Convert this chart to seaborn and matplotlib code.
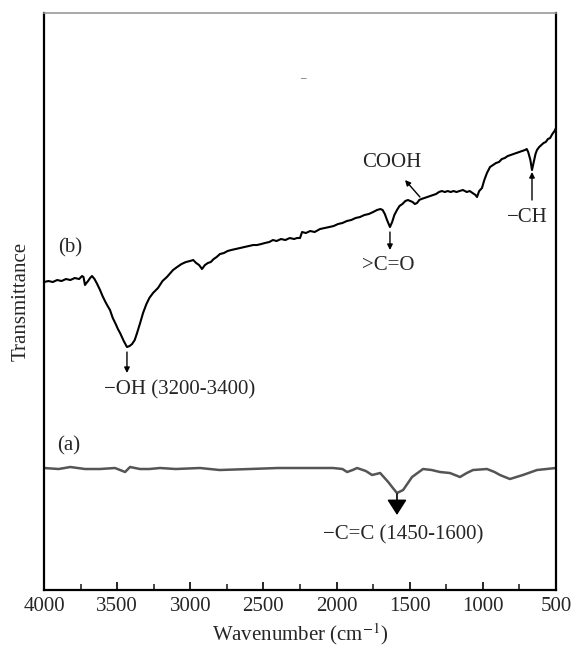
import pandas as pd
import matplotlib.pyplot as plt
import seaborn as sns
from matplotlib.ticker import MultipleLocator

# Spectrum (b): wavenumber (cm-1) and transmittance (arbitrary units)
wn_b = [4000, 3970, 3940, 3910, 3880, 3850, 3820, 3790, 3760, 3740, 3730,
        3720, 3710, 3699, 3685, 3672, 3655, 3640, 3617, 3600, 3580, 3565,
        3549, 3530, 3510, 3495, 3480, 3455, 3433, 3415, 3398, 3380, 3364,
        3345, 3323, 3300, 3280, 3255, 3221, 3190, 3160, 3118, 3090, 3060,
        3030, 3002, 2980, 2960, 2940, 2920, 2900, 2880, 2860, 2840, 2820,
        2797, 2770, 2745, 2720, 2690, 2660, 2630, 2600, 2570, 2544, 2515,
        2490, 2460, 2435, 2410, 2380, 2350, 2320, 2290, 2271, 2250, 2236,
        2210, 2180, 2150, 2113, 2080, 2050, 2020, 1990, 1960, 1930, 1900,
        1870, 1840, 1810, 1780, 1750, 1724, 1700, 1685, 1670, 1655, 1635,
        1620, 1605, 1587, 1570, 1550, 1530, 1512, 1495, 1480, 1465, 1450,
        1435, 1420, 1400, 1380, 1360, 1341, 1320, 1300, 1280, 1260, 1240,
        1220, 1200, 1180, 1160, 1136, 1110, 1090, 1070, 1050, 1040, 1025,
        1006, 990, 972, 951, 930, 910, 890, 870, 850, 830, 810, 790, 770,
        750, 730, 712, 700, 690, 675, 664, 652, 640, 630, 615, 600, 585,
        570, 555, 540, 525, 510, 500]
tr_b = [308, 309, 308, 310, 309, 311, 310, 312, 311, 314, 313,
        305, 307, 309, 312, 314, 311, 307, 300, 294, 288, 284,
        280, 272, 266, 261, 257, 249, 243, 244, 246, 250, 257,
        266, 277, 286, 292, 297, 302, 309, 313, 320, 323, 326,
        328, 329, 330, 327, 325, 321, 325, 327, 328, 331, 333,
        336, 337, 339, 340, 341, 342, 343, 344, 345, 345, 346,
        347, 348, 350, 349, 351, 350, 352, 351, 352, 352, 358,
        357, 359, 358, 361, 362, 363, 364, 366, 367, 369, 370,
        372, 373, 375, 376, 378, 380, 381, 380, 376, 370, 363,
        368, 375, 380, 384, 386, 389, 390, 389, 388, 386, 387,
        390, 391, 392, 393, 394, 395, 396, 398, 399, 398, 399,
        398, 399, 398, 399, 400, 398, 399, 397, 395, 393, 399,
        402, 410, 417, 423, 425, 427, 428, 431, 432, 434, 435, 436, 437,
        438, 439, 440, 441, 438, 430, 420, 428, 436, 440, 443, 445, 447,
        448, 451, 452, 456, 459, 462]

# Spectrum (a)
wn_a = [4000, 3900, 3820, 3720, 3617, 3515, 3480, 3446, 3412, 3344, 3280,
        3207, 3100, 2934, 2800, 2592, 2400, 2250, 2100, 2024, 1960, 1928,
        1890, 1860, 1800, 1757, 1702, 1647, 1615, 1587, 1545, 1484, 1409,
        1350, 1293, 1225, 1156, 1110, 1067, 972, 920, 883, 815, 726, 630, 500]
tr_a = [122, 121, 123, 121, 121, 122, 120, 118, 123, 121, 121,
        122, 121, 122, 120, 121, 122, 122, 122, 122, 121, 118,
        120, 122, 119, 115, 117, 108, 102, 97, 100, 113, 121,
        120, 118, 117, 113, 117, 120, 121, 118, 115, 111, 115, 120, 122]

df_b = pd.DataFrame({"wn": wn_b, "T": tr_b})
df_a = pd.DataFrame({"wn": wn_a, "T": tr_a})

sns.set_style("white")
plt.rcParams['font.family'] = ['Liberation Serif', 'DejaVu Serif']
plt.rcParams['mathtext.fontset'] = 'stix'

fig = plt.figure(figsize=(5.71, 6.48), dpi=100)
ax = fig.add_axes([0.0771, 0.0895, 0.8966, 0.8904])

sns.lineplot(data=df_b, x="wn", y="T", ax=ax, color="black", lw=1.5,
             sort=False, estimator=None)
sns.lineplot(data=df_a, x="wn", y="T", ax=ax, color="#555555", lw=1.8,
             sort=False, estimator=None)

ax.set_xlim(4000, 500)
ax.set_ylim(0, 577)
ax.xaxis.set_major_locator(MultipleLocator(500))
ax.xaxis.set_minor_locator(MultipleLocator(250))
ax.tick_params(axis='x', which='major', direction='in', length=6, width=1.4,
               labelsize=15, pad=5, bottom=True, top=False)
ax.tick_params(axis='x', which='minor', direction='in', length=4, width=1.2,
               bottom=True, top=False)
ax.set_yticks([])

for side in ['left', 'bottom', 'right']:
    ax.spines[side].set_color('black')
    ax.spines[side].set_linewidth(1.6)
ax.spines['top'].set_color('#999999')
ax.spines['top'].set_linewidth(1.2)

ax.set_xlabel("Wavenumber (cm$^{-1}$)", fontsize=15, labelpad=4)
ax.set_ylabel("Transmittance", fontsize=15, labelpad=10)

fs = 15
ax.text(3822, 342, "(b)", fontsize=fs, ha='center', va='center')
ax.text(3829, 144, "(a)", fontsize=fs, ha='center', va='center')

# annotations
thin = dict(arrowstyle='-|>', color='black', lw=1.0, mutation_scale=8,
            shrinkA=0, shrinkB=0)
ax.annotate("", xy=(3433, 217), xytext=(3433, 238), arrowprops=thin)
ax.text(3070, 200, "\u2212OH (3200-3400)", fontsize=fs, ha='center', va='center')

ax.annotate("", xy=(1635, 340), xytext=(1635, 358), arrowprops=thin)
ax.text(1648, 325, ">C=O", fontsize=fs, ha='center', va='center')

ax.annotate("", xy=(1532, 410), xytext=(1430, 393), arrowprops=thin)
ax.text(1621, 428, "COOH", fontsize=fs, ha='center', va='center')

ax.annotate("", xy=(664, 418), xytext=(664, 390), arrowprops=thin)
ax.text(698, 373, "\u2212CH", fontsize=fs, ha='center', va='center')

big = dict(arrowstyle='-|>,head_length=0.47,head_width=0.3', color='black',
           lw=1.2, mutation_scale=20, shrinkA=0, shrinkB=0)
ax.annotate("", xy=(1587, 75), xytext=(1587, 96), arrowprops=big)
ax.text(1546, 55, "\u2212C=C (1450-1600)", fontsize=fs, ha='center', va='center')

# small stray mark near the top
ax.text(2230, 511, "\u2013", fontsize=8, ha='center', va='center', color='#333333')

fig.savefig("out.png", dpi=100)
